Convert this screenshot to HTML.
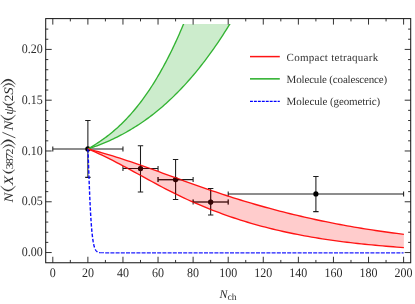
<!DOCTYPE html>
<html><head><meta charset="utf-8"><title>plot</title>
<style>
html,body{margin:0;padding:0;background:#fff;}
body{width:415px;height:304px;overflow:hidden;}
svg{display:block;will-change:transform;}
text{font-family:"Liberation Serif",serif;fill:#2c2c2c;text-rendering:geometricPrecision;}
.t{font-size:12px;}
.t13{font-size:13px;}
.l{font-size:11px;fill:#333;}
</style></head><body>
<svg width="415" height="304" viewBox="0 0 415 304">
<rect width="415" height="304" fill="#fff"/>
<path d="M87.88,120.51V177.39 M85.18,120.51h5.4 M85.18,177.39h5.4 M52.80,148.95H122.96 M52.80,146.45v5 M122.96,146.45v5" fill="none" stroke="#1c1c1c" stroke-width="1.05"/>
<path d="M140.50,145.70V191.91 M137.80,145.70h5.4 M137.80,191.91h5.4 M122.96,168.55H158.04 M122.96,166.05v5 M158.04,166.05v5" fill="none" stroke="#1c1c1c" stroke-width="1.05"/>
<path d="M175.58,159.41V199.53 M172.88,159.41h5.4 M172.88,199.53h5.4 M158.04,179.62H193.12 M158.04,177.12v5 M193.12,177.12v5" fill="none" stroke="#1c1c1c" stroke-width="1.05"/>
<path d="M210.66,188.56V214.97 M207.96,188.56h5.4 M207.96,214.97h5.4 M193.12,202.07H228.20 M193.12,199.57v5 M228.20,199.57v5" fill="none" stroke="#1c1c1c" stroke-width="1.05"/>
<path d="M315.90,176.47V211.62 M313.20,176.47h5.4 M313.20,211.62h5.4 M228.20,193.94H403.60 M228.20,191.44v5 M403.60,191.44v5" fill="none" stroke="#1c1c1c" stroke-width="1.05"/>
<circle cx="87.88" cy="148.95" r="2.6" fill="#000"/>
<circle cx="140.50" cy="168.55" r="2.6" fill="#000"/>
<circle cx="175.58" cy="179.62" r="2.6" fill="#000"/>
<circle cx="210.66" cy="202.07" r="2.6" fill="#000"/>
<circle cx="315.90" cy="193.94" r="2.6" fill="#000"/>
<clipPath id="gc"><rect x="46" y="24" width="364" height="238"/></clipPath>
<path d="M87.85,148.95 L89.08,148.25 L90.32,147.53 L91.55,146.80 L92.79,146.05 L94.02,145.30 L95.26,144.52 L96.49,143.73 L97.73,142.93 L98.96,142.11 L100.20,141.28 L101.43,140.42 L102.67,139.55 L103.90,138.67 L105.14,137.76 L106.37,136.84 L107.61,135.90 L108.84,134.93 L110.08,133.95 L111.31,132.95 L112.55,131.93 L113.78,130.89 L115.02,129.82 L116.25,128.73 L117.49,127.63 L118.72,126.49 L119.96,125.34 L121.19,124.16 L122.42,122.96 L123.66,121.73 L124.89,120.48 L126.13,119.20 L127.36,117.90 L128.60,116.57 L129.83,115.21 L131.07,113.83 L132.30,112.42 L133.54,110.98 L134.77,109.51 L136.01,108.02 L137.24,106.49 L138.48,104.94 L139.71,103.35 L140.95,101.74 L142.18,100.09 L143.42,98.41 L144.65,96.70 L145.89,94.96 L147.12,93.19 L148.36,91.38 L149.59,89.54 L150.83,87.66 L152.06,85.75 L153.29,83.81 L154.53,81.83 L155.76,79.82 L157.00,77.76 L158.23,75.68 L159.47,73.55 L160.70,71.39 L161.94,69.19 L163.17,66.95 L164.41,64.67 L165.64,62.36 L166.88,60.00 L168.11,57.61 L169.35,55.17 L170.58,52.69 L171.82,50.18 L173.05,47.62 L174.29,45.01 L175.52,42.37 L176.76,39.68 L177.99,36.95 L179.23,34.17 L180.46,31.35 L181.70,28.49 L182.93,25.58 L184.17,22.63 L185.40,19.63 L232.00,20.47 L230.18,23.48 L228.35,26.44 L226.53,29.36 L224.70,32.24 L222.88,35.07 L221.05,37.86 L219.23,40.60 L217.40,43.31 L215.58,45.97 L213.75,48.59 L211.93,51.16 L210.10,53.70 L208.28,56.20 L206.45,58.65 L204.63,61.07 L202.81,63.44 L200.98,65.78 L199.16,68.08 L197.33,70.34 L195.51,72.56 L193.68,74.74 L191.86,76.89 L190.03,79.00 L188.21,81.07 L186.38,83.11 L184.56,85.11 L182.73,87.07 L180.91,89.00 L179.08,90.89 L177.26,92.75 L175.43,94.58 L173.61,96.37 L171.79,98.13 L169.96,99.85 L168.14,101.54 L166.31,103.20 L164.49,104.83 L162.66,106.43 L160.84,107.99 L159.01,109.52 L157.19,111.03 L155.36,112.50 L153.54,113.94 L151.71,115.35 L149.89,116.74 L148.06,118.09 L146.24,119.42 L144.42,120.72 L142.59,121.99 L140.77,123.23 L138.94,124.44 L137.12,125.63 L135.29,126.80 L133.47,127.93 L131.64,129.04 L129.82,130.13 L127.99,131.19 L126.17,132.23 L124.34,133.24 L122.52,134.23 L120.69,135.19 L118.87,136.13 L117.04,137.05 L115.22,137.95 L113.40,138.82 L111.57,139.68 L109.75,140.51 L107.92,141.32 L106.10,142.11 L104.27,142.88 L102.45,143.63 L100.62,144.36 L98.80,145.07 L96.97,145.76 L95.15,146.43 L93.32,147.09 L91.50,147.73 L89.67,148.35 L87.85,148.95Z" fill="#33b333" fill-opacity="0.25" stroke="none" clip-path="url(#gc)"/>
<path d="M87.85,148.95 L89.08,148.25 L90.32,147.53 L91.55,146.80 L92.79,146.05 L94.02,145.30 L95.26,144.52 L96.49,143.73 L97.73,142.93 L98.96,142.11 L100.20,141.28 L101.43,140.42 L102.67,139.55 L103.90,138.67 L105.14,137.76 L106.37,136.84 L107.61,135.90 L108.84,134.93 L110.08,133.95 L111.31,132.95 L112.55,131.93 L113.78,130.89 L115.02,129.82 L116.25,128.73 L117.49,127.63 L118.72,126.49 L119.96,125.34 L121.19,124.16 L122.42,122.96 L123.66,121.73 L124.89,120.48 L126.13,119.20 L127.36,117.90 L128.60,116.57 L129.83,115.21 L131.07,113.83 L132.30,112.42 L133.54,110.98 L134.77,109.51 L136.01,108.02 L137.24,106.49 L138.48,104.94 L139.71,103.35 L140.95,101.74 L142.18,100.09 L143.42,98.41 L144.65,96.70 L145.89,94.96 L147.12,93.19 L148.36,91.38 L149.59,89.54 L150.83,87.66 L152.06,85.75 L153.29,83.81 L154.53,81.83 L155.76,79.82 L157.00,77.76 L158.23,75.68 L159.47,73.55 L160.70,71.39 L161.94,69.19 L163.17,66.95 L164.41,64.67 L165.64,62.36 L166.88,60.00 L168.11,57.61 L169.35,55.17 L170.58,52.69 L171.82,50.18 L173.05,47.62 L174.29,45.01 L175.52,42.37 L176.76,39.68 L177.99,36.95 L179.23,34.17 L180.46,31.35 L181.70,28.49 L182.93,25.58 L184.17,22.63 L185.40,19.63" fill="none" stroke="#33b333" stroke-width="1.35" clip-path="url(#gc)"/>
<path d="M87.85,148.95 L89.67,148.35 L91.50,147.73 L93.32,147.09 L95.15,146.43 L96.97,145.76 L98.80,145.07 L100.62,144.36 L102.45,143.63 L104.27,142.88 L106.10,142.11 L107.92,141.32 L109.75,140.51 L111.57,139.68 L113.40,138.82 L115.22,137.95 L117.04,137.05 L118.87,136.13 L120.69,135.19 L122.52,134.23 L124.34,133.24 L126.17,132.23 L127.99,131.19 L129.82,130.13 L131.64,129.04 L133.47,127.93 L135.29,126.80 L137.12,125.63 L138.94,124.44 L140.77,123.23 L142.59,121.99 L144.42,120.72 L146.24,119.42 L148.06,118.09 L149.89,116.74 L151.71,115.35 L153.54,113.94 L155.36,112.50 L157.19,111.03 L159.01,109.52 L160.84,107.99 L162.66,106.43 L164.49,104.83 L166.31,103.20 L168.14,101.54 L169.96,99.85 L171.79,98.13 L173.61,96.37 L175.43,94.58 L177.26,92.75 L179.08,90.89 L180.91,89.00 L182.73,87.07 L184.56,85.11 L186.38,83.11 L188.21,81.07 L190.03,79.00 L191.86,76.89 L193.68,74.74 L195.51,72.56 L197.33,70.34 L199.16,68.08 L200.98,65.78 L202.81,63.44 L204.63,61.07 L206.45,58.65 L208.28,56.20 L210.10,53.70 L211.93,51.16 L213.75,48.59 L215.58,45.97 L217.40,43.31 L219.23,40.60 L221.05,37.86 L222.88,35.07 L224.70,32.24 L226.53,29.36 L228.35,26.44 L230.18,23.48 L232.00,20.47" fill="none" stroke="#33b333" stroke-width="1.35" clip-path="url(#gc)"/>
<path d="M87.85,148.95 L91.40,149.86 L94.95,150.80 L98.50,151.77 L102.05,152.78 L105.61,153.81 L109.16,154.87 L112.71,155.96 L116.26,157.07 L119.81,158.20 L123.36,159.36 L126.91,160.53 L130.46,161.73 L134.01,162.94 L137.57,164.16 L141.12,165.40 L144.67,166.65 L148.22,167.91 L151.77,169.18 L155.32,170.46 L158.87,171.74 L162.42,173.03 L165.97,174.32 L169.53,175.62 L173.08,176.91 L176.63,178.20 L180.18,179.48 L183.73,180.77 L187.28,182.04 L190.83,183.31 L194.38,184.58 L197.93,185.84 L201.49,187.08 L205.04,188.32 L208.59,189.55 L212.14,190.77 L215.69,191.97 L219.24,193.16 L222.79,194.34 L226.34,195.50 L229.89,196.65 L233.45,197.78 L237.00,198.90 L240.55,199.99 L244.10,201.08 L247.65,202.14 L251.20,203.19 L254.75,204.23 L258.30,205.25 L261.86,206.25 L265.41,207.24 L268.96,208.21 L272.51,209.17 L276.06,210.11 L279.61,211.04 L283.16,211.95 L286.71,212.84 L290.26,213.72 L293.82,214.59 L297.37,215.44 L300.92,216.27 L304.47,217.09 L308.02,217.90 L311.57,218.69 L315.12,219.47 L318.67,220.23 L322.22,220.98 L325.78,221.71 L329.33,222.43 L332.88,223.13 L336.43,223.82 L339.98,224.50 L343.53,225.16 L347.08,225.81 L350.63,226.44 L354.18,227.06 L357.74,227.67 L361.29,228.26 L364.84,228.84 L368.39,229.40 L371.94,229.95 L375.49,230.49 L379.04,231.01 L382.59,231.52 L386.14,232.02 L389.70,232.51 L393.25,232.98 L396.80,233.44 L400.35,233.88 L403.90,234.31 L403.90,247.59 L400.35,247.33 L396.80,247.06 L393.25,246.79 L389.70,246.50 L386.14,246.21 L382.59,245.91 L379.04,245.60 L375.49,245.27 L371.94,244.94 L368.39,244.59 L364.84,244.24 L361.29,243.87 L357.74,243.48 L354.18,243.09 L350.63,242.68 L347.08,242.25 L343.53,241.81 L339.98,241.35 L336.43,240.88 L332.88,240.39 L329.33,239.88 L325.78,239.36 L322.22,238.82 L318.67,238.26 L315.12,237.67 L311.57,237.07 L308.02,236.45 L304.47,235.81 L300.92,235.15 L297.37,234.46 L293.82,233.75 L290.26,233.02 L286.71,232.27 L283.16,231.49 L279.61,230.68 L276.06,229.85 L272.51,229.00 L268.96,228.12 L265.41,227.21 L261.86,226.28 L258.30,225.31 L254.75,224.32 L251.20,223.30 L247.65,222.25 L244.10,221.17 L240.55,220.06 L237.00,218.92 L233.45,217.75 L229.89,216.55 L226.34,215.31 L222.79,214.04 L219.24,212.74 L215.69,211.40 L212.14,210.03 L208.59,208.63 L205.04,207.19 L201.49,205.72 L197.93,204.22 L194.38,202.68 L190.83,201.10 L187.28,199.49 L183.73,197.85 L180.18,196.17 L176.63,194.45 L173.08,192.70 L169.53,190.91 L165.97,189.08 L162.42,187.23 L158.87,185.35 L155.32,183.44 L151.77,181.52 L148.22,179.58 L144.67,177.64 L141.12,175.69 L137.57,173.74 L134.01,171.79 L130.46,169.86 L126.91,167.93 L123.36,166.03 L119.81,164.15 L116.26,162.29 L112.71,160.47 L109.16,158.68 L105.61,156.93 L102.05,155.22 L98.50,153.57 L94.95,151.97 L91.40,150.43 L87.85,148.95Z" fill="#ff3333" fill-opacity="0.25" stroke="none"/>
<path d="M87.85,148.95 L91.40,149.86 L94.95,150.80 L98.50,151.77 L102.05,152.78 L105.61,153.81 L109.16,154.87 L112.71,155.96 L116.26,157.07 L119.81,158.20 L123.36,159.36 L126.91,160.53 L130.46,161.73 L134.01,162.94 L137.57,164.16 L141.12,165.40 L144.67,166.65 L148.22,167.91 L151.77,169.18 L155.32,170.46 L158.87,171.74 L162.42,173.03 L165.97,174.32 L169.53,175.62 L173.08,176.91 L176.63,178.20 L180.18,179.48 L183.73,180.77 L187.28,182.04 L190.83,183.31 L194.38,184.58 L197.93,185.84 L201.49,187.08 L205.04,188.32 L208.59,189.55 L212.14,190.77 L215.69,191.97 L219.24,193.16 L222.79,194.34 L226.34,195.50 L229.89,196.65 L233.45,197.78 L237.00,198.90 L240.55,199.99 L244.10,201.08 L247.65,202.14 L251.20,203.19 L254.75,204.23 L258.30,205.25 L261.86,206.25 L265.41,207.24 L268.96,208.21 L272.51,209.17 L276.06,210.11 L279.61,211.04 L283.16,211.95 L286.71,212.84 L290.26,213.72 L293.82,214.59 L297.37,215.44 L300.92,216.27 L304.47,217.09 L308.02,217.90 L311.57,218.69 L315.12,219.47 L318.67,220.23 L322.22,220.98 L325.78,221.71 L329.33,222.43 L332.88,223.13 L336.43,223.82 L339.98,224.50 L343.53,225.16 L347.08,225.81 L350.63,226.44 L354.18,227.06 L357.74,227.67 L361.29,228.26 L364.84,228.84 L368.39,229.40 L371.94,229.95 L375.49,230.49 L379.04,231.01 L382.59,231.52 L386.14,232.02 L389.70,232.51 L393.25,232.98 L396.80,233.44 L400.35,233.88 L403.90,234.31" fill="none" stroke="#ff1414" stroke-width="1.35"/>
<path d="M87.85,148.95 L91.40,150.43 L94.95,151.97 L98.50,153.57 L102.05,155.22 L105.61,156.93 L109.16,158.68 L112.71,160.47 L116.26,162.29 L119.81,164.15 L123.36,166.03 L126.91,167.93 L130.46,169.86 L134.01,171.79 L137.57,173.74 L141.12,175.69 L144.67,177.64 L148.22,179.58 L151.77,181.52 L155.32,183.44 L158.87,185.35 L162.42,187.23 L165.97,189.08 L169.53,190.91 L173.08,192.70 L176.63,194.45 L180.18,196.17 L183.73,197.85 L187.28,199.49 L190.83,201.10 L194.38,202.68 L197.93,204.22 L201.49,205.72 L205.04,207.19 L208.59,208.63 L212.14,210.03 L215.69,211.40 L219.24,212.74 L222.79,214.04 L226.34,215.31 L229.89,216.55 L233.45,217.75 L237.00,218.92 L240.55,220.06 L244.10,221.17 L247.65,222.25 L251.20,223.30 L254.75,224.32 L258.30,225.31 L261.86,226.28 L265.41,227.21 L268.96,228.12 L272.51,229.00 L276.06,229.85 L279.61,230.68 L283.16,231.49 L286.71,232.27 L290.26,233.02 L293.82,233.75 L297.37,234.46 L300.92,235.15 L304.47,235.81 L308.02,236.45 L311.57,237.07 L315.12,237.67 L318.67,238.26 L322.22,238.82 L325.78,239.36 L329.33,239.88 L332.88,240.39 L336.43,240.88 L339.98,241.35 L343.53,241.81 L347.08,242.25 L350.63,242.68 L354.18,243.09 L357.74,243.48 L361.29,243.87 L364.84,244.24 L368.39,244.59 L371.94,244.94 L375.49,245.27 L379.04,245.60 L382.59,245.91 L386.14,246.21 L389.70,246.50 L393.25,246.79 L396.80,247.06 L400.35,247.33 L403.90,247.59" fill="none" stroke="#ff1414" stroke-width="1.35"/>
<clipPath id="rb"><path d="M87.85,148.95 L91.40,149.86 L94.95,150.80 L98.50,151.77 L102.05,152.78 L105.61,153.81 L109.16,154.87 L112.71,155.96 L116.26,157.07 L119.81,158.20 L123.36,159.36 L126.91,160.53 L130.46,161.73 L134.01,162.94 L137.57,164.16 L141.12,165.40 L144.67,166.65 L148.22,167.91 L151.77,169.18 L155.32,170.46 L158.87,171.74 L162.42,173.03 L165.97,174.32 L169.53,175.62 L173.08,176.91 L176.63,178.20 L180.18,179.48 L183.73,180.77 L187.28,182.04 L190.83,183.31 L194.38,184.58 L197.93,185.84 L201.49,187.08 L205.04,188.32 L208.59,189.55 L212.14,190.77 L215.69,191.97 L219.24,193.16 L222.79,194.34 L226.34,195.50 L229.89,196.65 L233.45,197.78 L237.00,198.90 L240.55,199.99 L244.10,201.08 L247.65,202.14 L251.20,203.19 L254.75,204.23 L258.30,205.25 L261.86,206.25 L265.41,207.24 L268.96,208.21 L272.51,209.17 L276.06,210.11 L279.61,211.04 L283.16,211.95 L286.71,212.84 L290.26,213.72 L293.82,214.59 L297.37,215.44 L300.92,216.27 L304.47,217.09 L308.02,217.90 L311.57,218.69 L315.12,219.47 L318.67,220.23 L322.22,220.98 L325.78,221.71 L329.33,222.43 L332.88,223.13 L336.43,223.82 L339.98,224.50 L343.53,225.16 L347.08,225.81 L350.63,226.44 L354.18,227.06 L357.74,227.67 L361.29,228.26 L364.84,228.84 L368.39,229.40 L371.94,229.95 L375.49,230.49 L379.04,231.01 L382.59,231.52 L386.14,232.02 L389.70,232.51 L393.25,232.98 L396.80,233.44 L400.35,233.88 L403.90,234.31 L403.90,247.59 L400.35,247.33 L396.80,247.06 L393.25,246.79 L389.70,246.50 L386.14,246.21 L382.59,245.91 L379.04,245.60 L375.49,245.27 L371.94,244.94 L368.39,244.59 L364.84,244.24 L361.29,243.87 L357.74,243.48 L354.18,243.09 L350.63,242.68 L347.08,242.25 L343.53,241.81 L339.98,241.35 L336.43,240.88 L332.88,240.39 L329.33,239.88 L325.78,239.36 L322.22,238.82 L318.67,238.26 L315.12,237.67 L311.57,237.07 L308.02,236.45 L304.47,235.81 L300.92,235.15 L297.37,234.46 L293.82,233.75 L290.26,233.02 L286.71,232.27 L283.16,231.49 L279.61,230.68 L276.06,229.85 L272.51,229.00 L268.96,228.12 L265.41,227.21 L261.86,226.28 L258.30,225.31 L254.75,224.32 L251.20,223.30 L247.65,222.25 L244.10,221.17 L240.55,220.06 L237.00,218.92 L233.45,217.75 L229.89,216.55 L226.34,215.31 L222.79,214.04 L219.24,212.74 L215.69,211.40 L212.14,210.03 L208.59,208.63 L205.04,207.19 L201.49,205.72 L197.93,204.22 L194.38,202.68 L190.83,201.10 L187.28,199.49 L183.73,197.85 L180.18,196.17 L176.63,194.45 L173.08,192.70 L169.53,190.91 L165.97,189.08 L162.42,187.23 L158.87,185.35 L155.32,183.44 L151.77,181.52 L148.22,179.58 L144.67,177.64 L141.12,175.69 L137.57,173.74 L134.01,171.79 L130.46,169.86 L126.91,167.93 L123.36,166.03 L119.81,164.15 L116.26,162.29 L112.71,160.47 L109.16,158.68 L105.61,156.93 L102.05,155.22 L98.50,153.57 L94.95,151.97 L91.40,150.43 L87.85,148.95Z"/></clipPath>
<path d="M140.50,145.70V191.91 M137.80,145.70h5.4 M137.80,191.91h5.4 M122.96,168.55H158.04 M122.96,166.05v5 M158.04,166.05v5" fill="none" stroke="#3a0a0a" stroke-width="1.05" clip-path="url(#rb)" opacity="0.75"/>
<circle cx="140.50" cy="168.55" r="2.6" fill="#300000" clip-path="url(#rb)" opacity="0.6"/>
<path d="M175.58,159.41V199.53 M172.88,159.41h5.4 M172.88,199.53h5.4 M158.04,179.62H193.12 M158.04,177.12v5 M193.12,177.12v5" fill="none" stroke="#3a0a0a" stroke-width="1.05" clip-path="url(#rb)" opacity="0.75"/>
<circle cx="175.58" cy="179.62" r="2.6" fill="#300000" clip-path="url(#rb)" opacity="0.6"/>
<path d="M210.66,188.56V214.97 M207.96,188.56h5.4 M207.96,214.97h5.4 M193.12,202.07H228.20 M193.12,199.57v5 M228.20,199.57v5" fill="none" stroke="#3a0a0a" stroke-width="1.05" clip-path="url(#rb)" opacity="0.75"/>
<circle cx="210.66" cy="202.07" r="2.6" fill="#300000" clip-path="url(#rb)" opacity="0.6"/>
<path d="M87.90,149.00 L88.11,153.16 L88.31,158.50 L88.52,164.18 L88.72,169.93 L88.93,175.62 L89.13,181.16 L89.34,186.50 L89.54,191.60 L89.75,196.44 L89.95,201.01 L90.16,205.30 L90.36,209.32 L90.57,213.07 L90.77,216.55 L90.98,219.78 L91.18,222.76 L91.39,225.52 L91.59,228.05 L91.80,230.38 L92.00,232.52 L92.21,234.47 L92.41,236.25 L92.62,237.88 L92.82,239.36 L93.03,240.71 L93.23,241.94 L93.44,243.05 L93.64,244.05 L93.85,244.97 L94.05,245.79 L94.26,246.53 L94.46,247.20 L94.67,247.81 L94.87,248.35 L95.08,248.84 L95.28,249.28 L95.49,249.67 L95.69,250.02 L95.90,250.34 L96.10,250.62 L96.31,250.88 L96.51,251.10 L96.72,251.30 L96.92,251.48 L97.13,251.64 L97.33,251.79 L97.54,251.91 L97.74,252.03 L97.95,252.13 L98.15,252.22 L98.36,252.30 L98.56,252.37 L98.77,252.43 L98.97,252.49 L99.18,252.54 L99.38,252.58 L99.59,252.62 L99.79,252.65 L100.00,252.68" fill="none" stroke="#0c0cff" stroke-width="1.4" stroke-dasharray="3.5 1.8"/>
<path d="M100.00,252.68 L100.00,252.68 L107.78,252.90 L115.57,252.90 L123.35,252.90 L131.14,252.90 L138.92,252.90 L146.71,252.90 L154.49,252.90 L162.28,252.90 L170.06,252.90 L177.85,252.90 L185.63,252.90 L193.42,252.90 L201.20,252.90 L208.98,252.90 L216.77,252.90 L224.55,252.90 L232.34,252.90 L240.12,252.90 L247.91,252.90 L255.69,252.90 L263.48,252.90 L271.26,252.90 L279.05,252.90 L286.83,252.90 L294.62,252.90 L302.40,252.90 L310.18,252.90 L317.97,252.90 L325.75,252.90 L333.54,252.90 L341.32,252.90 L349.11,252.90 L356.89,252.90 L364.68,252.90 L372.46,252.90 L380.25,252.90 L388.03,252.90 L395.82,252.90 L403.60,252.90" fill="none" stroke="#1c1cff" stroke-width="1.1" stroke-dasharray="4.0 1.2"/>
<rect x="45.7" y="18.6" width="365.00" height="244.15" fill="none" stroke="#1c1c1c" stroke-width="1.05"/>
<path d="M52.80,262.75v-6.0 M52.80,18.6v6.0 M70.34,262.75v-2.8 M70.34,18.6v2.8 M87.88,262.75v-6.0 M87.88,18.6v6.0 M105.42,262.75v-2.8 M105.42,18.6v2.8 M122.96,262.75v-6.0 M122.96,18.6v6.0 M140.50,262.75v-2.8 M140.50,18.6v2.8 M158.04,262.75v-6.0 M158.04,18.6v6.0 M175.58,262.75v-2.8 M175.58,18.6v2.8 M193.12,262.75v-6.0 M193.12,18.6v6.0 M210.66,262.75v-2.8 M210.66,18.6v2.8 M228.20,262.75v-6.0 M228.20,18.6v6.0 M245.74,262.75v-2.8 M245.74,18.6v2.8 M263.28,262.75v-6.0 M263.28,18.6v6.0 M280.82,262.75v-2.8 M280.82,18.6v2.8 M298.36,262.75v-6.0 M298.36,18.6v6.0 M315.90,262.75v-2.8 M315.90,18.6v2.8 M333.44,262.75v-6.0 M333.44,18.6v6.0 M350.98,262.75v-2.8 M350.98,18.6v2.8 M368.52,262.75v-6.0 M368.52,18.6v6.0 M386.06,262.75v-2.8 M386.06,18.6v2.8 M403.60,262.75v-6.0 M403.60,18.6v6.0 M45.7,252.55h6.0 M410.7,252.55h-6.0 M45.7,242.39h2.6 M410.7,242.39h-2.6 M45.7,232.24h2.6 M410.7,232.24h-2.6 M45.7,222.08h2.6 M410.7,222.08h-2.6 M45.7,211.92h2.6 M410.7,211.92h-2.6 M45.7,201.77h6.0 M410.7,201.77h-6.0 M45.7,191.61h2.6 M410.7,191.61h-2.6 M45.7,181.45h2.6 M410.7,181.45h-2.6 M45.7,171.29h2.6 M410.7,171.29h-2.6 M45.7,161.14h2.6 M410.7,161.14h-2.6 M45.7,150.98h6.0 M410.7,150.98h-6.0 M45.7,140.82h2.6 M410.7,140.82h-2.6 M45.7,130.67h2.6 M410.7,130.67h-2.6 M45.7,120.51h2.6 M410.7,120.51h-2.6 M45.7,110.35h2.6 M410.7,110.35h-2.6 M45.7,100.20h6.0 M410.7,100.20h-6.0 M45.7,90.04h2.6 M410.7,90.04h-2.6 M45.7,79.88h2.6 M410.7,79.88h-2.6 M45.7,69.72h2.6 M410.7,69.72h-2.6 M45.7,59.57h2.6 M410.7,59.57h-2.6 M45.7,49.41h6.0 M410.7,49.41h-6.0 M45.7,39.25h2.6 M410.7,39.25h-2.6 M45.7,29.10h2.6 M410.7,29.10h-2.6 " fill="none" stroke="#1c1c1c" stroke-width="0.9"/>
<text x="52.80" y="276.7" text-anchor="middle" class="t13" textLength="6.0" lengthAdjust="spacingAndGlyphs">0</text>
<text x="87.88" y="276.7" text-anchor="middle" class="t13" textLength="12.0" lengthAdjust="spacingAndGlyphs">20</text>
<text x="122.96" y="276.7" text-anchor="middle" class="t13" textLength="12.0" lengthAdjust="spacingAndGlyphs">40</text>
<text x="158.04" y="276.7" text-anchor="middle" class="t13" textLength="12.0" lengthAdjust="spacingAndGlyphs">60</text>
<text x="193.12" y="276.7" text-anchor="middle" class="t13" textLength="12.0" lengthAdjust="spacingAndGlyphs">80</text>
<text x="228.20" y="276.7" text-anchor="middle" class="t13" textLength="18.0" lengthAdjust="spacingAndGlyphs">100</text>
<text x="263.28" y="276.7" text-anchor="middle" class="t13" textLength="18.0" lengthAdjust="spacingAndGlyphs">120</text>
<text x="298.36" y="276.7" text-anchor="middle" class="t13" textLength="18.0" lengthAdjust="spacingAndGlyphs">140</text>
<text x="333.44" y="276.7" text-anchor="middle" class="t13" textLength="18.0" lengthAdjust="spacingAndGlyphs">160</text>
<text x="368.52" y="276.7" text-anchor="middle" class="t13" textLength="18.0" lengthAdjust="spacingAndGlyphs">180</text>
<text x="403.60" y="276.7" text-anchor="middle" class="t13" textLength="18.0" lengthAdjust="spacingAndGlyphs">200</text>
<text x="42.8" y="256.25" text-anchor="end" class="t13" textLength="21.0" lengthAdjust="spacingAndGlyphs">0.00</text>
<text x="42.8" y="205.47" text-anchor="end" class="t13" textLength="21.0" lengthAdjust="spacingAndGlyphs">0.05</text>
<text x="42.8" y="154.68" text-anchor="end" class="t13" textLength="21.0" lengthAdjust="spacingAndGlyphs">0.10</text>
<text x="42.8" y="103.90" text-anchor="end" class="t13" textLength="21.0" lengthAdjust="spacingAndGlyphs">0.15</text>
<text x="42.8" y="53.11" text-anchor="end" class="t13" textLength="21.0" lengthAdjust="spacingAndGlyphs">0.20</text>
<text x="219.6" y="297.5" class="t"><tspan font-style="italic">N</tspan><tspan font-size="9.5" dy="2.2">ch</tspan></text>
<g transform="translate(13,203) rotate(-90)" text-anchor="middle"><text transform="translate(5.5,0) scale(1.14,1)" font-size="13" font-style="italic">N</text><path d="M16.90,-12.3Q6.50,-4.90 16.90,2.5Q9.10,-4.90 16.90,-12.3Z" fill="#2c2c2c" stroke="#2c2c2c" stroke-width="0.35" stroke-linejoin="round"/><text transform="translate(22.55,0) scale(1.2,1)" font-size="13" font-style="italic">X</text><path d="M33.25,-10.3Q25.85,-4.25 33.25,1.8Q28.05,-4.25 33.25,-10.3Z" fill="#2c2c2c" stroke="#2c2c2c" stroke-width="0.35" stroke-linejoin="round"/><text transform="translate(36.75,0) scale(1.15,1)" font-size="10.5">3</text><text transform="translate(41.8,0) scale(1.15,1)" font-size="10.5">8</text><text transform="translate(46.75,0) scale(1.15,1)" font-size="10.5">7</text><text transform="translate(51.5,0) scale(1.15,1)" font-size="10.5">2</text><path d="M54.90,-10.3Q62.30,-4.25 54.90,1.8Q60.10,-4.25 54.90,-10.3Z" fill="#2c2c2c" stroke="#2c2c2c" stroke-width="0.35" stroke-linejoin="round"/><path d="M58.20,-12.3Q68.60,-4.90 58.20,2.5Q66.00,-4.90 58.20,-12.3Z" fill="#2c2c2c" stroke="#2c2c2c" stroke-width="0.35" stroke-linejoin="round"/><path d="M65.1,2.4L70.7,-10.6" stroke="#333" stroke-width="0.85" fill="none"/><text transform="translate(77.45,0) scale(1.14,1)" font-size="13" font-style="italic">N</text><path d="M88.00,-12.3Q77.60,-4.90 88.00,2.5Q80.20,-4.90 88.00,-12.3Z" fill="#2c2c2c" stroke="#2c2c2c" stroke-width="0.35" stroke-linejoin="round"/><text transform="translate(92.7,0) scale(1.1,1)" font-size="13" font-style="italic">ψ</text><path d="M101.20,-10.3Q93.80,-4.25 101.20,1.8Q96.00,-4.25 101.20,-10.3Z" fill="#2c2c2c" stroke="#2c2c2c" stroke-width="0.35" stroke-linejoin="round"/><text transform="translate(105.05,0) scale(1.05,1)" font-size="12.5">2</text><text transform="translate(111.9,0) scale(1.15,1)" font-size="13" font-style="italic">S</text><path d="M116.05,-10.3Q123.45,-4.25 116.05,1.8Q121.25,-4.25 116.05,-10.3Z" fill="#2c2c2c" stroke="#2c2c2c" stroke-width="0.35" stroke-linejoin="round"/><path d="M118.70,-12.3Q129.10,-4.90 118.70,2.5Q126.50,-4.90 118.70,-12.3Z" fill="#2c2c2c" stroke="#2c2c2c" stroke-width="0.35" stroke-linejoin="round"/></g>
<path d="M250.0,56.6H279.8" stroke="#ff1414" stroke-width="1.5" fill="none"/>
<path d="M250.0,78.85H279.8" stroke="#33b333" stroke-width="1.6" fill="none"/>
<path d="M250.0,101.4H279.8" stroke="#0000ff" stroke-width="1.3" fill="none" stroke-dasharray="2.9 1.05"/>
<text x="286.6" y="60.8" class="l" textLength="91.6" lengthAdjust="spacing">Compact tetraquark</text>
<text x="286.6" y="83.0" class="l" textLength="100.6" lengthAdjust="spacing">Molecule (coalescence)</text>
<text x="286.6" y="105.1" class="l" textLength="93.6" lengthAdjust="spacing">Molecule (geometric)</text>
</svg>
</body></html>
